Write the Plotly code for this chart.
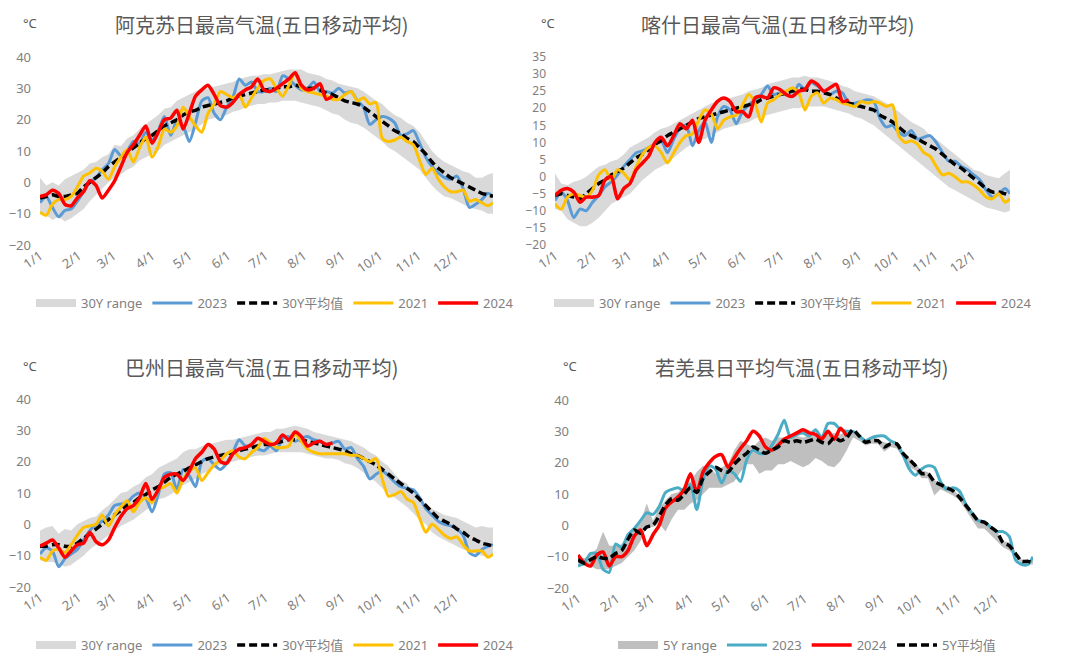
import plotly.graph_objects as go

# ---------------- data ----------------
DAYS = [0, 5, 10, 15, 20, 25, 30, 35, 40, 45,
        50, 55, 60, 65, 70, 75, 80, 85, 90, 95,
        100, 105, 110, 115, 120, 125, 130, 135, 140, 145,
        150, 155, 160, 165, 170, 175, 180, 185, 190, 195,
        200, 205, 210, 215, 220, 225, 230, 235, 240, 245,
        250, 255, 260, 265, 270, 275, 280, 285, 290, 295,
        300, 305, 310, 315, 320, 325, 330, 335, 340, 345,
        350, 355, 360, 364]
MONTH_TICKS = [0, 31, 59, 90, 120, 151, 181, 212, 243, 273, 304, 334]
MONTH_LABELS = ["1/1", "2/1", "3/1", "4/1", "5/1", "6/1", "7/1", "8/1", "9/1", "10/1", "11/1", "12/1"]

# --- 阿克苏 ---
AKS_HI = [1.5, -1, 0, -1, 1, 2, 3, 4, 6, 6.5,
          8, 9, 12, 11.5, 14, 15, 17, 18.5, 20, 21.5,
          23.5, 24, 26, 27, 28, 29, 30, 30, 30.5, 31,
          31.5, 32, 33, 33.5, 34, 34, 34.5, 34.5, 35, 35.5,
          36, 36, 36, 35, 34.5, 34, 33, 32.5, 31.5, 31,
          30.5, 30, 29, 27.5, 26, 25, 23, 21.5, 20.5, 19,
          18, 16, 13, 10, 8, 6.5, 5.5, 4.5, 3.5, 3,
          1.5, 1.5, 2.5, 3]
AKS_LO = [-9.5, -10.5, -12, -11, -12.5, -11.5, -10, -8.5, -6, -4,
          -2, 0, 1.5, 2.5, 4, 5, 7, 8, 9, 10,
          12, 13, 14, 15, 16, 17, 18.5, 20, 20.5, 21,
          21.5, 22.5, 23, 24, 24.5, 25, 25, 25.5, 25.5, 26,
          26, 26, 25.5, 25, 24.5, 24, 23, 22, 21.5, 20,
          19, 18.5, 17.5, 16, 14.5, 13, 11, 10, 8.5, 7,
          5.5, 4, 1.5, -1, -3, -4.5, -5, -6, -7, -8,
          -8.5, -9, -10, -10]
AKS_AVG = [-5, -4.5, -4, -4.5, -4.5, -4, -3.5, -1.5, 0, 1.5,
           3, 5, 6.5, 8, 9.5, 11, 12.5, 14, 15, 16.5,
           18, 19, 20, 21.5, 22.5, 23, 24, 24.5, 25, 25.5,
           26, 27, 27.5, 28, 28.5, 29, 29.5, 29.5, 30, 30.5,
           30.5, 31, 30.5, 30, 30, 29.5, 28.5, 28, 27, 26,
           25.5, 25, 24, 22.5, 21, 19.5, 18, 16.5, 15.5, 14,
           13, 11, 9, 6.5, 4.5, 3, 1.5, 0.5, -0.5, -1.5,
           -2.5, -3.5, -4, -4.5]
AKS_2023 = [-6.5, -4.5, -8, -11, -9, -8.5, -6, -3, 0, 1.5,
            4, 6, 10.5, 8.5, 10, 13, 12.5, 16, 13.5, 16.5,
            21, 15, 19.5, 18, 13, 19, 26, 27, 22, 20,
            24, 27, 33, 31, 32, 29, 29, 30, 29, 34,
            33, 31, 29.5, 30, 32, 29, 29, 28.5, 30, 28.5,
            29, 26, 24, 18.5, 20, 21, 20.5, 19, 15, 15.5,
            16.5, 12.5, 8, 5, 3, 1.5, 1, 2, -2, -8,
            -7, -5.5, -3.5, -4.5]
AKS_2021 = [-9.5, -10.5, -7, -5.5, -5.5, -4.5, -1.5, 2, 3, 4.5,
            3.5, 1, 5, 8, 10.5, 6.5, 11, 14.5, 8, 11.5,
            17, 16, 18, 24, 21, 18, 16, 22, 25, 29,
            28, 27, 28, 24, 27, 30, 32.5, 33, 30, 27.5,
            31, 35, 30, 29, 28.5, 28, 27.5, 26.5, 26.5, 28,
            29, 26, 27, 25, 25.5, 14, 13, 13.5, 14.5, 13,
            12, 7, 2.5, 4.5, 1, -1.5, -3, -3, -2.5, -6,
            -5.5, -6.5, -7.5, -6.5]
AKS_2024 = [-4.5, -4, -2.5, -3.5, -7, -7.5, -5, -3, 0.5, -1,
            -5, -2.5, 0.5, 5, 9.5, 12, 15, 18, 12.5, 16,
            20, 20.5, 23, 17, 22, 27.5, 29.5, 31, 28, 24.5,
            24, 25.5, 28, 29.5, 30.5, 33, 29.5, 29, 30, 31.5,
            33, 35, 31, 29.5, 30, 31.5, 26.5, 27.5]

# --- 喀什 ---
KS_HI = [1, -2, -2.5, -1.5, -1, 0, 1.5, 3, 3.5, 4.5,
         5, 6.5, 8.5, 9.5, 10.5, 11.5, 13, 14, 14.5, 15.5,
         16.5, 17.5, 18.5, 19.5, 20.5, 21.5, 22, 22.5, 23, 23.5,
         24, 25, 25.5, 26, 27, 27.5, 28, 28.5, 29, 29,
         29.5, 29, 29, 28.5, 28, 27.5, 26.5, 26, 25, 24.5,
         24, 23.5, 22.5, 21.5, 20.5, 19, 17.5, 16, 15, 14,
         12, 11, 9.5, 8, 6.5, 5, 3.5, 2, 1.5, 0.5,
         0, -0.5, 1, 2]
KS_LO = [-9.5, -10, -12.5, -13.5, -14.5, -14.5, -13.5, -12, -10, -8,
         -7, -6, -5, -3, -1, 0.5, 2, 3, 4, 5.5,
         7, 8.5, 9.5, 10.5, 11, 12, 13, 14, 14.5, 15,
         15.5, 16, 17, 17.5, 18, 18.5, 19, 19.5, 20, 20,
         20.5, 20.5, 20.5, 20.5, 20, 19.5, 19, 18.5, 17.5, 17,
         16, 15, 13.5, 12, 10.5, 9, 7.5, 6, 4.5, 3,
         1.5, 0, -1.5, -3, -4, -5, -6, -7, -8, -9,
         -9.5, -10, -10.5, -10]
KS_AVG = [-5.5, -5, -5.5, -6, -6.5, -5, -3.5, -2, -1, 0.5,
          1.5, 2.5, 4, 5.5, 6.5, 8, 9.5, 10.5, 12, 13,
          14, 15, 16, 17, 17.5, 18, 18.5, 19, 19.5, 20,
          20.5, 21, 21.5, 22.5, 23, 23.5, 24, 24.5, 25, 25.5,
          25.5, 25, 25, 24.5, 24, 23, 22, 21.5, 21, 20.5,
          20, 19.5, 18, 17, 16, 14.5, 13, 12, 11, 10,
          9, 8, 6.5, 5, 3.5, 2.5, 1, -0.5, -2, -3.5,
          -4.5, -4.5, -5, -5.5]
KS_2023 = [-7, -4.5, -7, -12, -9.5, -10, -7.5, -5.5, -3, -1.5,
           0.5, 3, 5, 7, 7.5, 8.5, 9.5, 10.5, 7, 11,
           14, 15, 9, 13.5, 16, 10, 17.5, 20.5, 19.5, 15.5,
           19, 21, 22.5, 24, 26.5, 24, 24.5, 24, 23.5, 27,
           25.5, 27.5, 26.5, 25, 24, 25, 24.5, 21.5, 21.5, 22,
           22.5, 22, 17, 14.5, 15, 13, 12, 13.5, 11, 11.5,
           12, 10, 7, 4.5, 4.5, 3, 2, 0.5, -1, -4,
           -6, -5, -3.5, -5]
KS_2021 = [-8, -9.5, -6, -5, -5.5, -6, -4, 0.5, 2, -1,
           2, 1, -1, 3, 6.5, 8.5, 9, 7, 4, 7,
           10, 12, 12.5, 16.5, 19.5, 18.5, 14, 16.5, 17.5, 18,
           21, 24, 21.5, 16, 21.5, 22.5, 24, 25, 26, 24.5,
           19.5, 23.5, 24.5, 21.5, 23, 22.5, 21.5, 21, 20.5, 22,
           21.5, 22, 21.5, 20.5, 21, 12, 10, 10.5, 9.5, 7,
           6, 3, 0.5, 1, 0, -1.5, -1.5, -2.5, -4, -6,
           -6.5, -5, -7.5, -6.5]
KS_2024 = [-5.5, -4, -3.5, -4.5, -7.5, -6, -6, -5.5, -1, 0,
           -6.5, -3.5, -2, 2, 4, 6, 10, 11.5, 9, 12,
           15.5, 14, 16.5, 10, 16.5, 19.5, 22, 23, 22, 19,
           19, 17.5, 23, 23.5, 23, 26, 25.5, 24, 23.5, 25,
           25.5, 28, 27, 25, 26, 27, 22, 22.5]

# --- 巴州 ---
BZ_HI = [-2, -1, -0.5, -3, -1.5, -2, 0, 1, 2, 2.5,
         4.5, 6, 8, 10, 10.5, 12, 13, 15, 16, 18,
         19, 20, 21, 23, 24, 24, 25, 25.5, 26, 26.5,
         27, 27, 27.5, 28, 28.5, 29, 29.5, 29.5, 30.5, 30.5,
         31, 31.5, 31, 30.5, 29.5, 29, 28.5, 28, 27.5, 27,
         26.5, 25.5, 24.5, 23, 22, 20, 18.5, 16, 14, 13,
         10, 8.5, 6.5, 5, 4, 3, 2.5, 2, 1, 0,
         -1, -0.5, -1, -1]
BZ_LO = [-11.5, -12, -12, -12.5, -13.5, -13, -11.5, -10, -8, -6.5,
         -5, -3.5, -2, -0.5, 0.5, 1.5, 3, 4.5, 6, 8,
         8.5, 9.5, 11, 12.5, 13.5, 14.5, 16, 17, 18, 19,
         19.5, 20, 20.5, 21, 21.5, 22, 22, 22.5, 23, 23,
         23, 23, 23, 22.5, 22, 21.5, 21, 21, 20.5, 19.5,
         19, 18, 16.5, 15, 13.5, 11.5, 10, 8.5, 7, 5.5,
         3.5, 1.5, 0, -2.5, -4, -5, -6, -7, -8, -8.5,
         -9.5, -10, -10.5, -10]
BZ_AVG = [-7, -7, -6.5, -6.5, -7, -7, -6, -4.5, -3, -1.5,
          0, 1.5, 3, 4.5, 6, 7, 8.5, 9.5, 11, 12,
          13.5, 15, 16, 17, 18, 19, 20, 21, 21.5, 22,
          22.5, 23, 23.5, 24, 24.5, 25, 25.5, 25.5, 26, 26.5,
          27, 27, 27, 26.5, 26, 25.5, 25, 24.5, 24, 23.5,
          22.5, 22, 21, 20, 19, 17.5, 16, 14.5, 13, 11.5,
          10, 8, 6, 4, 2, 1, 0, -1.5, -2.5, -4,
          -5, -6, -6.5, -7]
BZ_2023 = [-9.5, -7.5, -8.5, -13.5, -11, -9.5, -8, -5, -2, 0,
           1, 3, 6, 6.5, 7, 9, 10, 8.5, 4, 9.5,
           16, 16.5, 11, 17.5, 15.5, 12, 20, 21, 19, 17.5,
           19.5, 23, 27, 25, 25, 24, 23.5, 25, 23.5, 27.5,
           28, 26.5, 27.5, 28, 27, 26.5, 25.5, 26, 26.5, 24,
           24.5, 21, 18.5, 14.5, 16, 17, 15.5, 13.5, 12, 11.5,
           11, 8.5, 5, 3, 1, 0, -0.5, -1.5, -3.5, -9,
           -10, -8, -7, -6.5]
BZ_2021 = [-10.5, -11.5, -8.5, -8, -9, -6.5, -3.5, -1, -0.5, 0,
           3, -0.5, 3, 5.5, 7.5, 4, 7, 8.5, 7, 11,
           12, 13, 10, 14.5, 17, 18, 14, 16.5, 19, 20.5,
           22.5, 23.5, 21.5, 21, 23, 24.5, 27.5, 26, 24.5, 24.5,
           25, 29, 26.5, 24, 23, 22.5, 22.5, 22.5, 22.5, 22.5,
           22, 22, 21, 20, 21, 14.5, 9, 9.5, 10.5, 8,
           7, 2, -2.5, 0, -1.5, -3.5, -4.5, -4, -6.5, -8.5,
           -8.5, -8.5, -10.5, -9.5]
BZ_2024 = [-7, -6, -5, -7.5, -10.5, -8.5, -6.5, -6, -2.5, -5.5,
           -6.5, -5, -1, 2.5, 5, 6, 8.5, 13, 8, 11,
           15, 16, 16, 14, 17, 21, 23, 25.5, 24, 20,
           19.5, 22.5, 24, 24.5, 25.5, 27.5, 26.5, 25.5, 26, 28.5,
           27, 29.5, 28, 25, 26, 26.5, 25.5, 26]

# --- 若羌县 ---
RQ_HI = [-10, -10.5, -9.5, -7.5, -2, -6.5, -6.5, -6, -3, -1.5,
         1, 7, 1.5, 5.5, 8, 10, 10.5, 12.5, 14, 17,
         19, 18.5, 16.5, 18.5, 19.5, 24, 27, 26, 25, 27,
         28, 27, 28, 28, 28.5, 28.5, 28, 28.5, 28.5, 28,
         29, 29.5, 29, 30, 30.5, 29, 27.5, 28, 27.5, 26.5,
         26, 26.5, 23.5, 21.5, 19.5, 17.5, 17, 14.5, 13.5, 12.5,
         11.5, 9.5, 7, 4.5, 2, 1.5, -0.5, -2, -5, -5.5,
         -8.5, -11, -11, -11.5]
RQ_LO = [-13, -13, -13, -14, -14, -14, -13, -12, -10, -8,
         -5, -0.5, -0.5, 0.5, -2, 2, 5, 5, 7, 8,
         10, 12, 12, 12, 13, 14, 17, 19.5, 19.5, 16.5,
         17.5, 17.5, 19.5, 19.5, 20.5, 19.5, 18.5, 19.5, 21.5, 20.5,
         19, 18.5, 20.5, 24, 28, 27, 25.5, 26, 26, 23.5,
         25, 24.5, 21.5, 18.5, 17.5, 15, 15, 9.5, 11.5, 10.5,
         9.5, 8, 5, 2, -1, -1, -3, -5, -7, -8,
         -10, -12, -12.5, -12.5]
RQ_AVG = [-11, -12, -11, -10, -10.5, -10.5, -9, -8, -4.5, -1.5,
          -2.5, -0.5, 0, 3, 6.5, 8.5, 8, 10, 12, 10.5,
          15, 17, 18.5, 17.5, 17, 19.5, 21.5, 23, 25, 24,
          23, 24, 25, 27, 26.5, 27, 26.5, 27, 27.5, 26.5,
          26, 28, 27, 28, 30.5, 28.5, 26.5, 27, 27, 25,
          26, 26, 23, 21, 19, 16.5, 16.5, 14, 13, 12,
          11, 9, 6.5, 4, 1.5, 1, -0.5, -2, -5.5, -6.5,
          -9, -11.5, -11.5, -12]
RQ_2023 = [-13, -12, -9, -9, -14, -15, -6, -7, -3, -1,
           1.5, 4, 3.5, 6, 10.5, 11.5, 12, 11, 13, 5,
           14.5, 19, 18, 13.5, 17.5, 16.5, 14, 21, 24, 23,
           23, 25.5, 29, 33.5, 28, 29, 29.5, 28.5, 30.5, 28,
           32.5, 32.5, 30.5, 30, 30, 28.5, 27, 28, 28.5, 28.5,
           27, 26, 22.5, 18, 16, 18, 19, 18.5, 14, 11.5,
           12, 11, 7, 4, 1.5, 1, -0.5, -2, -2, -3.5,
           -11, -12.5, -12.5, -10]
RQ_2024 = [-9.5, -12, -13, -9.5, -8.5, -13, -10, -10, -8, -3.5,
           -1.5, -6.5, -3, 0, 5.5, 7.5, 9, 11.5, 16.5, 10.5,
           17, 20, 22, 22.5, 18.5, 21.5, 24.5, 27, 30, 28.5,
           25, 24, 25.5, 27.5, 28.5, 29.5, 30.5, 29.5, 29, 27.5,
           30, 27.5, 31, 28.5]

TITLES = ["阿克苏日最高气温(五日移动平均)", "喀什日最高气温(五日移动平均)",
          "巴州日最高气温(五日移动平均)", "若羌县日平均气温(五日移动平均)"]

# ---------------- styling ----------------
W, H = 1080, 667
FONT = "Noto Sans CJK SC, Noto Sans, sans-serif"
NUMFONT = "Noto Sans, Noto Sans CJK SC, sans-serif"
TICK_C = "#7F7F7F"
TITLE_C = "#595959"
C_BLUE = "#5B9BD5"
C_YEL = "#FFC000"
C_RED = "#FF0000"
C_TEAL = "#4BACC6"
C_BAND = "#D9D9D9"
C_BAND5 = "#BFBFBF"

PANELS = [
    dict(x0=40, x1=493, yt=57, yb=245, yr=[-20, 40], dt=10, fs=13, title_x=262, title_y=24, c_x=30, c_y=23, leg_x=31, leg_y=303),
    dict(x0=555, x1=1010, yt=57, yb=245, yr=[-20, 35], dt=5, fs=12, title_x=778, title_y=24, c_x=548, c_y=23, leg_x=549, leg_y=303),
    dict(x0=40, x1=493, yt=399, yb=587, yr=[-20, 40], dt=10, fs=13, title_x=262, title_y=367, c_x=30, c_y=366, leg_x=31, leg_y=645),
    dict(x0=578, x1=1033, yt=400, yb=588, yr=[-20, 40], dt=10, fs=13, title_x=802, title_y=367, c_x=570, c_y=366, leg_x=613, leg_y=645),
]

fig = go.Figure()


def ax_names(i):
    s = "" if i == 0 else str(i + 1)
    return "x" + s, "y" + s, "legend" + s


def add_band(i, hi, lo, color, name):
    xa, ya, lg = ax_names(i)
    fig.add_trace(go.Scatter(x=DAYS, y=lo, mode="lines", line=dict(width=0, color=color),
                             showlegend=False, hoverinfo="skip", xaxis=xa, yaxis=ya))
    fig.add_trace(go.Scatter(x=DAYS, y=hi, mode="lines", line=dict(width=0, color=color),
                             fill="tonexty", fillcolor=color, showlegend=False,
                             hoverinfo="skip", xaxis=xa, yaxis=ya))
    fig.add_trace(go.Scatter(x=[None], y=[None], mode="lines", line=dict(width=8, color=color),
                             name=name, legend=lg, xaxis=xa, yaxis=ya))


def add_line(i, y, color, name, dash=None, width=3):
    xa, ya, lg = ax_names(i)
    line = dict(width=width, color=color, shape="spline", smoothing=0.7)
    if dash:
        line["dash"] = dash
    fig.add_trace(go.Scatter(x=DAYS[:len(y)], y=y, mode="lines", line=line, name=name,
                             legend=lg, xaxis=xa, yaxis=ya))


DASH = "8px,4px"
add_band(0, AKS_HI, AKS_LO, C_BAND, "30Y range")
add_line(0, AKS_2023, C_BLUE, "2023")
add_line(0, AKS_AVG, "#000000", "30Y平均值", dash=DASH, width=3.5)
add_line(0, AKS_2021, C_YEL, "2021")
add_line(0, AKS_2024, C_RED, "2024", width=3.5)

add_band(1, KS_HI, KS_LO, C_BAND, "30Y range")
add_line(1, KS_2023, C_BLUE, "2023")
add_line(1, KS_AVG, "#000000", "30Y平均值", dash=DASH, width=3.5)
add_line(1, KS_2021, C_YEL, "2021")
add_line(1, KS_2024, C_RED, "2024", width=3.5)

add_band(2, BZ_HI, BZ_LO, C_BAND, "30Y range")
add_line(2, BZ_2023, C_BLUE, "2023")
add_line(2, BZ_AVG, "#000000", "30Y平均值", dash=DASH, width=3.5)
add_line(2, BZ_2021, C_YEL, "2021")
add_line(2, BZ_2024, C_RED, "2024", width=3.5)

add_band(3, RQ_HI, RQ_LO, C_BAND5, "5Y range")
add_line(3, RQ_2023, C_TEAL, "2023")
add_line(3, RQ_2024, C_RED, "2024", width=3.5)
add_line(3, RQ_AVG, "#000000", "5Y平均值", dash=DASH, width=3.5)

layout = dict(
    width=W, height=H,
    margin=dict(l=0, r=0, t=0, b=0, pad=0, autoexpand=False),
    paper_bgcolor="white", plot_bgcolor="white",
    font=dict(family=FONT, color=TICK_C, size=13),
    hovermode=False,
)
annotations = []
for i, p in enumerate(PANELS):
    s = "" if i == 0 else str(i + 1)
    layout["xaxis" + s] = dict(
        domain=[p["x0"] / W, p["x1"] / W], range=[0, 364], anchor="y" + s,
        tickmode="array", tickvals=MONTH_TICKS, ticktext=MONTH_LABELS, tickangle=-35,
        showgrid=False, zeroline=False, showline=False, ticks="", automargin=False,
        tickfont=dict(family=NUMFONT, size=13, color=TICK_C), fixedrange=True,
    )
    layout["yaxis" + s] = dict(
        domain=[1 - p["yb"] / H, 1 - p["yt"] / H], range=p["yr"], anchor="x" + s,
        dtick=p["dt"], tick0=0, showgrid=False, zeroline=False, showline=False, ticks="",
        automargin=False, ticklabelstandoff=8,
        tickfont=dict(family=NUMFONT, size=p["fs"], color=TICK_C), fixedrange=True,
    )
    layout["legend" + s] = dict(
        orientation="h", x=p["leg_x"] / W, y=1 - p["leg_y"] / H, xanchor="left", yanchor="middle",
        font=dict(family=NUMFONT, size=13, color=TICK_C), bgcolor="rgba(0,0,0,0)",
        itemwidth=40, traceorder="normal", tracegroupgap=0,
    )
    annotations.append(dict(text=TITLES[i], x=p["title_x"] / W, y=1 - p["title_y"] / H,
                            xref="paper", yref="paper", showarrow=False,
                            xanchor="center", yanchor="middle",
                            font=dict(family=FONT, size=20, color=TITLE_C)))
    annotations.append(dict(text="°C", x=p["c_x"] / W, y=1 - p["c_y"] / H,
                            xref="paper", yref="paper", showarrow=False,
                            xanchor="center", yanchor="middle",
                            font=dict(family=NUMFONT, size=13, color=TITLE_C)))
layout["annotations"] = annotations
fig.update_layout(**layout)

fig.write_html("out.html", config={"displayModeBar": False, "staticPlot": True},
               post_script="document.body.style.margin='0';")
